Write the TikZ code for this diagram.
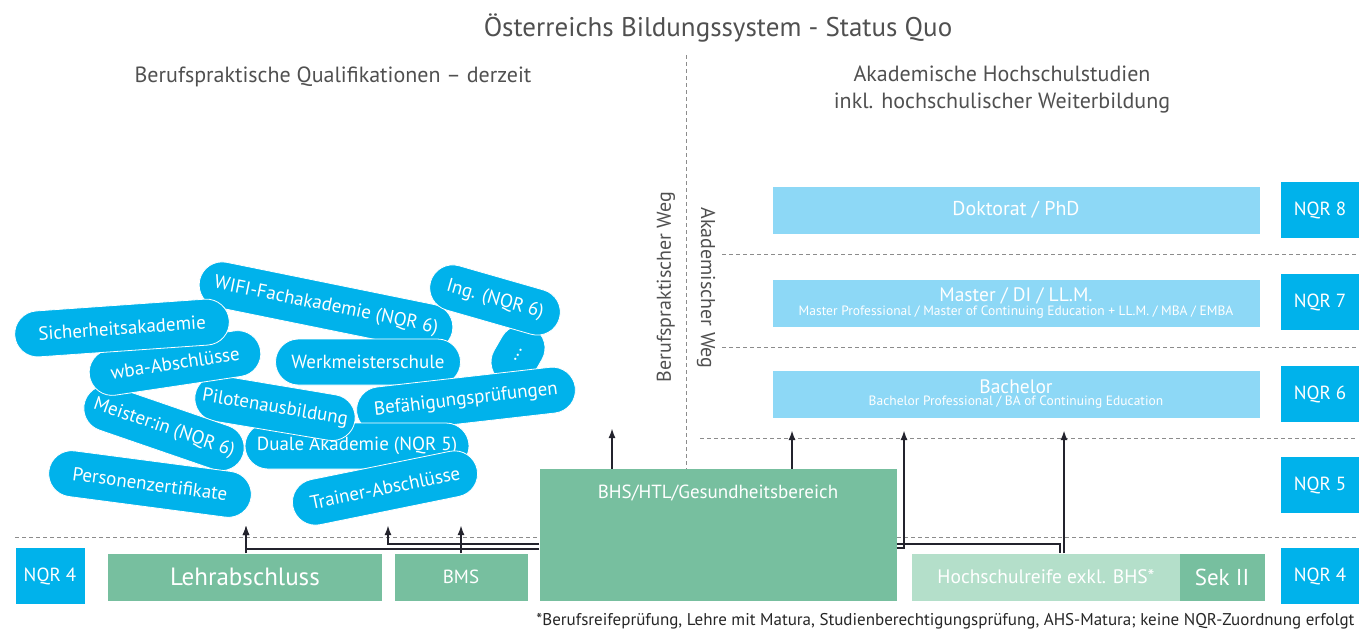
\documentclass[tikz,border=0pt]{standalone}
\usepackage{fontspec}
\setmainfont{PT Sans}
\usetikzlibrary{arrows.meta,shapes.misc,positioning}

\definecolor{nqrblau}{RGB}{0,178,235}
\definecolor{hellblau}{RGB}{141,216,246}
\definecolor{gruen}{RGB}{119,191,159}
\definecolor{hellgruen}{RGB}{180,223,202}
\definecolor{textgrau}{RGB}{80,80,80}
\definecolor{strichgrau}{RGB}{140,140,140}
\definecolor{pfeilfarbe}{RGB}{35,35,45}

\begin{document}
\begin{tikzpicture}[>={Latex[length=10pt,width=7pt]},x=1pt,y=-1pt,
	feld/.style={rectangle,inner sep=0pt,text=white},
	nqr/.style={feld,fill=nqrblau,minimum width=78pt,minimum height=56pt,
		font=\fontsize{19}{19}\selectfont},
	studium/.style={feld,fill=hellblau,minimum width=487pt,minimum height=47pt,
		align=center},
	schule/.style={feld,fill=gruen,minimum height=47pt},
	pille/.style={rounded rectangle,fill=nqrblau,draw=white,line width=0.8pt,
		text=white,minimum height=46pt,inner sep=0pt,
		font=\fontsize{19}{19}\selectfont},
	strich/.style={strichgrau,line width=0.9pt,dash pattern=on 4pt off 3pt},
	pfeil/.style={->,pfeilfarbe,line width=2.5pt}]

\def\breite{1362}
\def\hoehe{632}

\useasboundingbox (0,0) rectangle (\breite,\hoehe);

% Ueberschriften
\node (titel) at (718,28) [text=textgrau,font=\fontsize{27}{27}\selectfont]
	{Österreichs Bildungssystem - Status Quo};
\node (links) at (333,77) [text=textgrau,font=\fontsize{22}{22}\selectfont]
	{Berufspraktische Qualifikationen – derzeit};
\node (rechts) at (1002,90) [text=textgrau,align=center,
	font=\fontsize{22}{27}\selectfont]
	{Akademische Hochschulstudien\\inkl. hochschulischer Weiterbildung};

% Trennlinien
\draw[strich] (686,55) -- (686,469);
\draw[strich] (722,254) -- (1357,254);
\draw[strich] (722,347) -- (1357,347);
\draw[strich] (700,438) -- (1357,438);
\draw[strich] (15,537) -- (1357,537);

\node (bweg) at (666,287) [rotate=90,text=textgrau,
	font=\fontsize{20}{20}\selectfont] {Berufspraktischer Weg};
\node (aweg) at (706,288) [rotate=-90,text=textgrau,
	font=\fontsize{20}{20}\selectfont] {Akademischer Weg};

% Hochschule
\node (doktorat) at (1016,210) [studium,font=\fontsize{20}{20}\selectfont]
	{Doktorat / PhD};
\node (master) at (1016,303) [studium]
	{{\fontsize{19.5}{19.5}\selectfont Master / DI / LL.M.}\\[0pt]
	{\fontsize{13.5}{13.5}\selectfont Master Professional / Master of
	Continuing Education + LL.M. / MBA / EMBA}};
\node (bachelor) at (1016,394) [studium]
	{{\fontsize{19.5}{19.5}\selectfont Bachelor}\\[0pt]
	{\fontsize{13.5}{13.5}\selectfont Bachelor Professional / BA of
	Continuing Education}};

\node (nqr8) at (1320,210) [nqr] {NQR 8};
\node (nqr7) at (1320,302) [nqr] {NQR 7};
\node (nqr6) at (1320,394) [nqr] {NQR 6};
\node (nqr5) at (1320,485) [nqr] {NQR 5};
\node (nqr4r) at (1320,576) [nqr] {NQR 4};
\node (nqr4l) at (50,576) [nqr,minimum width=69pt] {NQR 4};

% Sekundarstufe
\node (lehre) at (245,577) [schule,minimum width=274pt,
	font=\fontsize{25}{25}\selectfont] {Lehrabschluss};
\node (bms) at (461,577) [schule,minimum width=133pt,
	font=\fontsize{19}{19}\selectfont] {BMS};
\node (bhs) at (718,535) [schule,minimum width=357pt,minimum height=132pt] {};
\node (bhstext) [below=13pt of bhs.north,text=white,
	font=\fontsize{19}{19}\selectfont] {BHS/HTL/Gesundheitsbereich};
\node (hsr) at (1046,577) [schule,fill=hellgruen,minimum width=268pt,
	font=\fontsize{19.5}{19.5}\selectfont] {Hochschulreife exkl. BHS*};
\node (sek) at (1222,577) [schule,minimum width=85pt,
	font=\fontsize{23}{23}\selectfont] {Sek II};

% Weiterbildungen
\node (wifi) at (326,306) [pille,rotate=-11.5,minimum width=258pt]
	{WIFI-Fachakademie (NQR 6)};
\node (punkte) at (518,355) [pille,rotate=60,minimum width=62pt] {...};
\node (ing) at (495,300) [pille,rotate=-16,minimum width=134pt]
	{Ing. (NQR 6)};
\node (werk) at (368,362) [pille,minimum width=185pt] {Werkmeisterschule};
\node (befae) at (466,400) [pille,rotate=6.5,minimum width=220pt]
	{Befähigungsprüfungen};
\node (duale) at (357,446) [pille,minimum width=224pt]
	{Duale Akademie (NQR 5)};
\node (pilot) at (275,408) [pille,rotate=-9.5,minimum width=162pt]
	{Pilotenausbildung};
\node (meister) at (164,428) [pille,rotate=-19,minimum width=167pt]
	{Meister:in (NQR 6)};
\node (wba) at (175,363) [pille,rotate=8.5,minimum width=173pt]
	{wba-Abschlüsse};
\node (sicher) at (122,328) [pille,rotate=4,minimum width=215pt]
	{Sicherheitsakademie};
\node (personen) at (150,484) [pille,rotate=-7.5,minimum width=204pt]
	{Personenzertifikate};
\node (trainer) at (385,488) [pille,rotate=11.5,minimum width=188pt]
	{Trainer-Abschlüsse};

% Pfeile
\coordinate (z1) at (246,525);
\coordinate (z2) at (388,525);
\coordinate (z3) at (461,525);
\coordinate (z4) at (612,428);
\coordinate (z5) at (792,430);
\coordinate (z6) at (904,430);
\coordinate (z7) at (1064,430);
\coordinate (k1) at (246,549);
\coordinate (k2) at (388,544);
\coordinate (k6) at (904,548);
\coordinate (k7) at (1060,544);

\draw[pfeil] (lehre.north -| z1) -- (z1);
\draw[pfeil] (bhs.west |- k1) -- (k1) -- (z1);
\draw[pfeil] (bhs.west |- k2) -- (k2) -- (z2);
\draw[pfeil] (bms.north -| z3) -- (z3);
\draw[pfeil] (bhs.north -| z4) -- (z4);
\draw[pfeil] (bhs.north -| z5) -- (z5);
\draw[pfeil] (bhs.east |- k6) -- (k6) -- (z6);
\draw[pfeilfarbe,line width=2.5pt] (bhs.east |- k7) -- (k7) -- (hsr.north -| k7);
\draw[pfeil] (hsr.north -| z7) -- (z7);

\node (fussnote) at (1358,621) [anchor=east,text=black!85,
	font=\fontsize{17}{17}\selectfont]
	{*Berufsreifeprüfung, Lehre mit Matura, Studienberechtigungsprüfung,
	AHS-Matura; keine NQR-Zuordnung erfolgt};

\end{tikzpicture}
\end{document}
